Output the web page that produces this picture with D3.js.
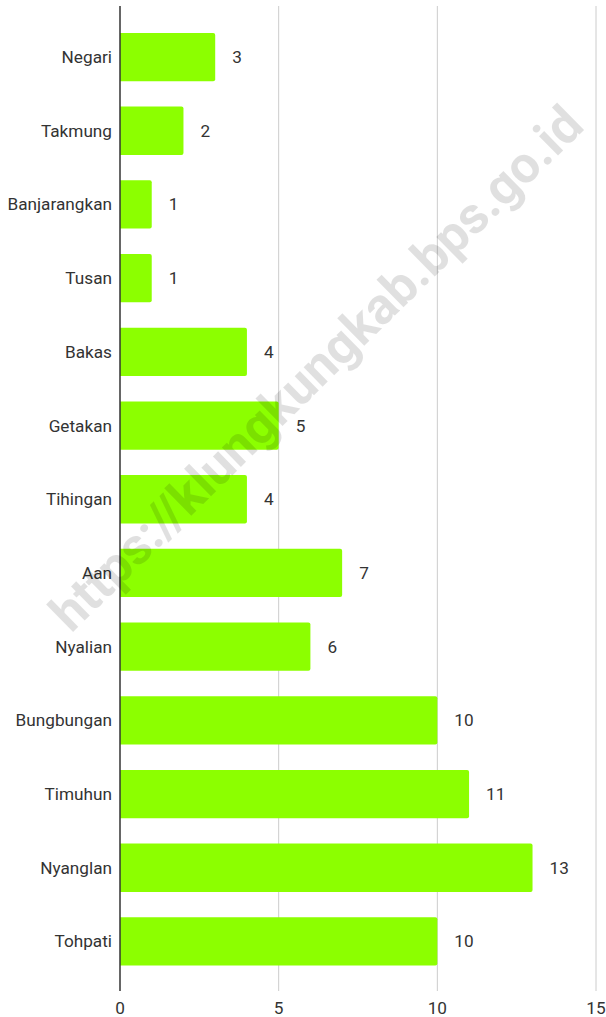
<!DOCTYPE html>
<html>
<head>
<meta charset="utf-8">
<script src="https://cdn.jsdelivr.net/npm/d3@7"></script>
<style>
  body { margin: 0; background: #fff; }
  text { font-family: Roboto, "Noto Sans", sans-serif; }
</style>
</head>
<body>
<svg id="chart"></svg>
<script>
var desa = ['Negari', 'Takmung', 'Banjarangkan', 'Tusan', 'Bakas', 'Getakan', 'Tihingan',
            'Aan', 'Nyalian', 'Bungbungan', 'Timuhun', 'Nyanglan', 'Tohpati'];
var jumlah = [3, 2, 1, 1, 4, 5, 4, 7, 6, 10, 11, 13, 10];
var xticks = [0, 5, 10, 15];
var watermark = 'https://klungkungkab.bps.go.id';

function draw() {
    var w = 606, h = 1017;
    var x0 = 120, x1 = 596;
    var top = 6, bottom = 991;
    var fs = 17.2;

    var svg = d3.select('#chart').attr('width', w).attr('height', h);

    var xs = d3.scaleLinear().domain([0, 15]).range([x0, x1]);
    var ys = d3.scaleBand().domain(desa).range([20.2, 978.3]).paddingInner(0.345).paddingOuter(0.1725);

    // grid
    svg.append('g').selectAll('line')
        .data(xticks.slice(1))
        .enter().append('line')
        .attr('x1', function(d) { return xs(d); })
        .attr('x2', function(d) { return xs(d); })
        .attr('y1', top).attr('y2', bottom)
        .attr('stroke', '#cccccc').attr('stroke-width', 1);

    // bars (rounded right end only)
    var r = 2;
    svg.append('g').selectAll('path')
        .data(jumlah)
        .enter().append('path')
        .attr('fill', '#8cff00')
        .attr('d', function(d, i) {
            var y = ys(desa[i]), bh = ys.bandwidth();
            var xa = xs(0), xb = xs(d);
            return 'M' + xa + ',' + y + 'H' + (xb - r) + 'Q' + xb + ',' + y + ' ' + xb + ',' + (y + r) +
                'V' + (y + bh - r) + 'Q' + xb + ',' + (y + bh) + ' ' + (xb - r) + ',' + (y + bh) +
                'H' + xa + 'Z';
        });

    // value labels
    svg.append('g').selectAll('text')
        .data(jumlah)
        .enter().append('text')
        .attr('x', function(d) { return xs(d) + 17; })
        .attr('y', function(d, i) { return ys(desa[i]) + ys.bandwidth() / 2; })
        .attr('dy', '0.35em')
        .attr('font-size', fs)
        .attr('fill', '#333')
        .text(function(d) { return d; });

    // category labels
    svg.append('g').selectAll('text')
        .data(desa)
        .enter().append('text')
        .attr('x', 112)
        .attr('y', function(d) { return ys(d) + ys.bandwidth() / 2; })
        .attr('dy', '0.35em')
        .attr('text-anchor', 'end')
        .attr('font-size', fs)
        .attr('fill', '#333')
        .text(function(d) { return d; });

    // baseline axis
    svg.append('line')
        .attr('x1', xs(0)).attr('x2', xs(0))
        .attr('y1', top).attr('y2', bottom)
        .attr('stroke', '#333').attr('stroke-width', 1.5);

    // x tick labels
    svg.append('g').selectAll('text')
        .data(xticks)
        .enter().append('text')
        .attr('x', function(d) { return xs(d); })
        .attr('y', 1008)
        .attr('dy', '0.35em')
        .attr('text-anchor', 'middle')
        .attr('font-size', fs)
        .attr('fill', '#333')
        .text(function(d) { return d; });

    // watermark
    var wm = svg.append('text')
        .attr('font-weight', 'bold')
        .attr('font-size', 44)
        .attr('fill', '#000')
        .attr('fill-opacity', 0.12)
        .attr('text-anchor', 'middle')
        .attr('dy', '0.35em')
        .attr('transform', 'translate(316,368) rotate(-44.5)')
        .text(watermark);
    var len = wm.node().getComputedTextLength();
    wm.attr('font-size', 44 * 722 / len);
}

draw();
</script>
</body>
</html>
